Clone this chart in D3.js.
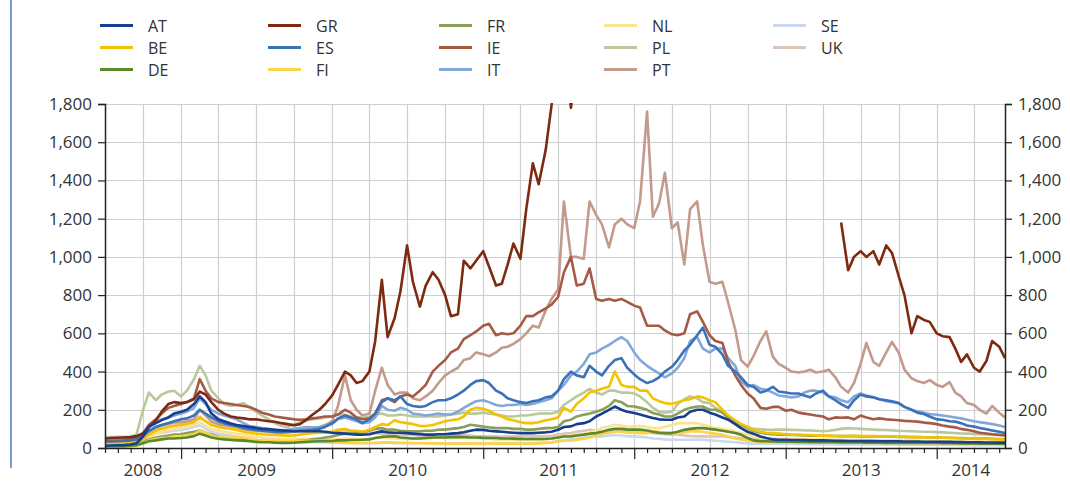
<!DOCTYPE html>
<html><head><meta charset="utf-8">
<script src="https://cdn.jsdelivr.net/npm/d3@7"></script>
<style>
body{margin:0;background:#fff;}
text{font-family:"Open Sans","Noto Sans",sans-serif;fill:#333;}
</style></head><body><svg id="c" width="1070" height="482"></svg>
<script>
// legend order (column-major)
const countries = ["AT","BE","DE","GR","ES","FI","FR","IE","IT","NL","PL","PT","SE","UK"];
const countryColors = ["#173f8e","#f3c300","#5b8a2b","#7e2a10","#3a72ba","#fdd34c","#8a9f5a","#a65a45","#82a8d9","#fbe38f","#b9c99c","#c39a8c","#c9d8ec","#dcc4b8"];
const yTicks = [0,200,400,600,800,1000,1200,1400,1600,1800];
const yearLabels = ["2008","2009","2010","2011","2012","2013","2014"];
// semi-monthly observation dates: 1st and 15th of each month, Jul 2008 - Jun 2014
const startMonth = "2008-07", endMonth = "2014-06";

const N = null;
const GR = [
50,52,54,55,57,62,75,110,145,190,230,240,
235,240,255,295,280,240,200,180,165,160,155,150,
150,145,140,137,130,125,119,125,150,175,200,230,
275,330,400,380,340,350,400,560,880,580,680,820,
1060,870,740,850,920,880,800,690,700,980,940,980,
1030,950,850,860,960,1070,990,1250,1490,1380,1560,1790,
2100,2100,1780,2000,2300,2600,2800,3000,3300,3800,4500,5000,
6000,7000,8000,9000,10000,11000,N,N,N,N,N,N,
N,N,N,N,N,N,N,N,N,N,N,N,
N,N,N,N,N,N,N,N,N,1180,930,1000,
1030,1000,1030,960,1060,1020,900,800,600,690,670,660,
600,585,580,520,450,490,420,400,455,560,530,470];
const PT = [
30,32,34,35,38,42,55,80,110,120,130,135,
135,140,150,200,170,140,125,120,115,110,100,95,
90,88,85,80,78,80,85,95,100,105,110,120,
140,220,380,250,200,170,180,300,420,330,280,290,
290,260,250,270,300,340,380,400,420,460,470,500,
490,480,500,525,530,545,570,600,640,630,720,780,
830,1290,1000,1000,990,1290,1220,1170,1050,1170,1200,1170,
1150,1290,1760,1210,1280,1440,1150,1180,960,1250,1290,1060,
870,860,870,760,620,460,426,480,560,610,478,440,
420,400,395,400,410,395,400,410,370,320,290,340,
440,550,450,430,500,555,500,410,365,350,340,355,
330,320,345,290,270,235,225,200,180,220,185,160];
const IE = [
35,36,38,40,45,55,75,120,150,180,210,220,
230,240,260,360,300,260,240,235,230,225,220,215,
200,185,175,165,160,155,150,148,150,155,160,165,
165,175,200,185,160,150,155,180,250,260,240,270,
280,270,300,330,400,430,460,500,520,570,590,610,
640,650,590,600,595,600,640,690,690,710,730,750,
790,920,1000,850,860,940,780,770,780,770,780,765,
745,735,640,640,640,615,595,590,600,700,715,660,
590,560,550,450,380,330,285,260,210,205,215,215,
195,200,185,180,175,170,165,150,160,158,160,150,
170,160,150,155,150,148,145,142,140,138,133,130,
125,118,112,108,100,95,88,80,76,72,68,65];
const ES = [
30,32,33,35,40,45,60,90,110,120,130,140,
150,155,170,200,180,160,140,130,120,115,105,100,
95,90,88,85,84,86,88,90,92,95,100,110,
130,155,170,160,150,130,150,180,240,260,250,270,
230,220,215,220,240,250,250,260,280,300,330,350,
355,340,300,285,260,250,240,235,245,250,265,270,
300,360,400,380,370,430,400,380,430,460,470,420,
385,360,340,350,370,400,425,460,510,540,590,630,
540,530,490,430,400,370,330,320,290,300,320,296,
290,285,285,275,265,285,300,270,250,230,210,250,
280,270,265,255,250,245,235,215,200,185,178,165,
150,148,140,138,130,118,112,105,98,92,85,78];
const IT = [
40,42,43,45,50,60,80,120,140,150,160,170,
180,190,210,260,230,200,180,170,160,150,130,115,
110,105,100,95,92,95,100,105,110,108,110,115,
125,150,160,150,140,130,135,160,220,200,195,210,
200,180,175,170,175,180,175,175,190,210,230,245,
250,240,225,220,225,225,230,225,230,240,250,260,
300,330,380,400,440,490,500,520,540,560,580,560,
500,460,430,410,390,370,390,420,470,560,580,520,
500,520,520,470,430,350,320,330,310,305,290,275,
270,265,270,290,300,300,290,270,265,250,240,270,
285,275,265,255,245,240,235,215,200,192,185,178,
174,170,165,160,155,148,140,135,130,125,118,110];
const BE = [
20,21,22,23,25,30,45,70,90,100,110,115,
120,125,135,160,140,120,110,105,100,95,85,80,
75,72,70,68,66,65,66,70,75,78,80,82,
85,95,100,90,90,85,95,110,125,120,145,135,
130,125,115,115,120,130,140,145,150,165,200,210,
205,195,175,165,150,145,135,130,130,135,145,150,
160,210,190,230,260,290,300,310,320,400,330,320,
320,300,300,260,245,235,230,240,250,255,270,265,
250,240,200,170,145,125,110,96,85,80,78,75,
72,70,70,68,68,66,65,65,63,62,62,64,
63,62,62,61,60,60,59,58,57,57,56,55,
55,54,54,52,50,50,49,48,47,46,45,44];
const PL = [
57,57,58,58,60,70,200,290,250,280,295,300,
270,300,360,430,380,300,260,230,220,225,235,210,
190,170,150,130,115,110,125,135,145,150,155,160,
165,175,175,165,160,160,165,175,180,170,170,175,
170,165,165,165,165,165,170,175,180,185,180,180,
185,180,175,170,165,165,170,170,175,180,182,180,
190,225,250,270,290,310,290,280,300,300,290,290,
285,270,240,210,190,185,190,230,255,270,260,240,
235,210,190,170,140,125,110,100,98,96,95,96,
96,95,94,92,92,90,88,90,95,100,104,102,
100,98,96,95,94,92,90,89,88,86,85,85,
83,82,80,78,76,75,74,72,71,70,70,68];
const FR = [
12,13,14,14,16,20,30,45,55,60,65,70,
72,78,85,92,80,70,60,55,50,48,45,42,
40,38,36,35,34,34,35,38,40,45,50,55,
60,68,75,78,80,85,90,100,104,96,96,90,
87,87,87,90,90,96,96,100,104,110,122,118,
112,108,104,104,104,100,100,96,96,100,104,105,
110,140,148,165,174,180,190,200,220,250,240,220,
217,210,200,183,175,165,165,180,200,210,217,217,
200,200,185,160,140,120,105,90,80,75,72,70,
70,68,67,66,65,64,64,63,63,62,62,63,
61,61,60,60,60,59,58,58,57,57,56,55,
55,54,53,52,52,51,50,50,49,48,47,46];
const AT = [
12,13,14,15,18,25,60,110,130,146,160,180,
190,200,230,270,240,180,150,140,128,120,115,110,
105,100,98,95,92,90,88,88,88,88,88,85,
80,78,75,72,70,70,72,80,87,82,80,80,
78,75,72,70,70,72,72,75,78,82,90,96,
95,90,87,85,82,80,78,78,78,80,82,85,
95,110,113,125,130,140,165,180,200,217,200,190,
183,175,165,157,150,148,148,160,165,190,200,200,
185,175,160,148,125,104,85,75,60,52,45,43,
43,42,42,41,40,40,40,39,38,38,37,37,
37,36,36,35,35,35,35,34,34,34,33,33,
33,32,32,31,31,30,30,30,29,29,28,28];
const DE = [
8,9,10,10,12,15,25,35,40,45,50,50,
52,55,62,75,65,55,48,45,42,40,38,35,
32,30,30,28,27,27,28,30,32,34,35,36,
37,40,40,42,42,43,45,52,58,60,61,55,
52,50,50,52,55,55,55,57,58,57,55,55,
53,52,52,50,50,49,48,47,47,47,48,50,
55,60,61,65,70,75,78,85,95,100,100,96,
96,96,92,85,80,78,78,85,95,100,104,104,
100,96,90,85,78,70,52,40,35,35,34,33,
33,33,32,32,31,31,30,30,30,29,29,29,
29,28,28,28,27,27,27,26,26,26,26,26,
26,25,25,25,24,24,24,23,23,23,22,22];
const NL = [
10,11,12,12,14,18,35,60,75,85,95,100,
105,110,120,137,115,100,90,85,80,75,70,65,
57,55,52,50,48,48,48,48,48,48,48,48,
43,45,48,48,45,45,48,52,55,52,50,48,
48,48,50,50,52,52,52,52,55,55,52,52,
50,48,45,45,45,43,43,43,43,43,45,48,
55,60,65,70,75,80,90,105,113,122,118,110,
113,115,110,104,104,110,120,130,130,130,130,122,
113,105,100,95,87,78,70,60,52,50,50,48,
48,47,46,45,45,44,43,43,42,42,42,42,
41,41,40,40,40,39,39,38,38,37,36,36,
35,35,34,34,33,33,32,32,31,31,30,30];
const FI = [
8,8,9,9,10,12,25,40,48,52,55,60,
62,65,72,90,80,65,58,55,55,57,55,50,
42,40,39,38,37,37,37,37,38,38,38,38,
30,28,26,26,25,25,26,26,28,28,27,26,
26,25,25,24,24,24,23,23,23,23,23,23,
23,23,23,23,23,23,22,22,22,24,26,28,
35,38,40,43,48,55,65,75,80,85,85,80,
80,78,78,87,85,80,78,78,82,87,87,85,
78,75,70,60,50,45,38,35,33,33,32,32,
32,31,31,30,30,30,29,29,29,28,28,28,
28,27,27,27,26,26,26,26,25,25,25,25,
25,25,24,24,24,24,23,23,23,23,22,22];
const SE = [
8,8,9,9,10,15,40,60,75,80,85,90,
95,100,110,119,100,85,75,70,65,60,55,50,
39,37,35,35,34,33,32,31,30,30,30,29,
28,27,27,26,26,26,26,26,28,28,27,26,
26,26,26,26,26,25,25,25,25,25,25,26,
26,26,26,26,26,26,26,26,26,27,28,30,
35,40,45,50,55,60,61,61,65,68,65,61,
61,58,55,50,48,45,43,43,43,43,43,43,
40,38,35,33,30,27,24,23,23,22,22,22,
22,21,21,21,20,20,20,20,19,19,19,19,
19,19,18,18,18,18,18,17,17,17,17,17,
17,16,16,16,16,15,15,15,15,15,14,14];
const UK = [
25,27,30,32,35,40,60,85,100,110,119,125,
130,135,145,165,140,125,115,110,105,100,95,92,
92,90,90,88,88,87,87,86,85,84,82,80,
82,85,87,85,82,80,78,78,75,72,70,70,
70,68,64,61,61,62,64,66,68,70,65,62,
61,61,60,60,60,61,62,62,61,61,62,64,
70,75,78,85,90,96,90,85,87,90,88,85,
85,82,80,78,75,72,70,70,65,62,61,61,
60,60,60,58,55,52,50,48,45,45,44,43,
43,43,42,42,42,42,42,42,41,41,40,40,
40,40,39,39,38,38,37,37,36,36,35,35,
34,33,33,32,32,31,31,30,30,29,29,28];

const seriesValues = {AT,BE,DE,GR,ES,FI,FR,IE,IT,NL,PL,PT,SE,UK};

// build dates
const parseM = d3.timeParse("%Y-%m");
const months = d3.timeMonth.range(parseM(startMonth), d3.timeMonth.offset(parseM(endMonth),1));
const dates = [];
months.forEach(m => { dates.push(m); dates.push(new Date(m.getFullYear(), m.getMonth(), 15)); });

const svg = d3.select("#c");
const L = 105, R = 1005, T = 104, B = 448;
const x = d3.scaleTime().domain([parseM(startMonth), dates[dates.length-1]]).range([L, R]);
const y = d3.scaleLinear().domain([0, 1800]).range([B, T]);

// left decorative rule
svg.append("line").attr("x1",11).attr("x2",11).attr("y1",0).attr("y2",468)
  .attr("stroke","#4a78c2").attr("stroke-width",1.5);

// gridlines
const g = svg.append("g");
g.selectAll(".hg").data(yTicks.filter(v=>v>0)).join("line")
  .attr("x1",L).attr("x2",R).attr("y1",d=>Math.round(y(d))+0.5).attr("y2",d=>Math.round(y(d))+0.5)
  .attr("stroke","#cfcfcf").attr("stroke-width",1.2);
const quarters = d3.timeMonth.every(3).range(x.domain()[0], x.domain()[1]).filter(d=>x(d)>L+1);
g.selectAll(".vg").data(quarters).join("line")
  .attr("x1",d=>Math.round(x(d))+0.5).attr("x2",d=>Math.round(x(d))+0.5).attr("y1",T).attr("y2",B)
  .attr("stroke","#cfcfcf").attr("stroke-width",1.2);

// lines
svg.append("clipPath").attr("id","clip").append("rect").attr("x",L).attr("y",T-1).attr("width",R-L).attr("height",B-T+1);
const line = d3.line().defined(d=>d.v!==null).x(d=>x(d.d)).y(d=>y(d.v)).curve(d3.curveLinear);
const lg = svg.append("g").attr("clip-path","url(#clip)");
const drawOrder = countries.slice().reverse();
drawOrder.forEach(c => {
  const vals = seriesValues[c];
  const data = dates.map((d,i)=>({d, v: vals[i]===undefined?null:vals[i]}));
  lg.append("path").datum(data).attr("d",line).attr("fill","none")
    .attr("stroke",countryColors[countries.indexOf(c)]).attr("stroke-width",2.6)
    .attr("stroke-linejoin","round");
});

// y axes
const yl = svg.append("g").attr("transform",`translate(${L},0)`)
  .call(d3.axisLeft(y).tickValues(yTicks).tickFormat(d3.format(",")).tickSize(7).tickPadding(6));
const yr = svg.append("g").attr("transform",`translate(${R},0)`)
  .call(d3.axisRight(y).tickValues(yTicks).tickFormat(d3.format(",")).tickSize(7).tickPadding(6));
[yl,yr].forEach(a=>{a.select(".domain").attr("stroke","#222").attr("stroke-width",1.5);
  a.selectAll(".tick line").attr("stroke","#222").attr("stroke-width",1.2);
  a.selectAll("text").style("font-size","17px").attr("fill","#333");});

// x axis
const xa = svg.append("g").attr("transform",`translate(0,${B})`)
  .call(d3.axisBottom(x).ticks(d3.timeMonth.every(1)).tickFormat("").tickSize(5).tickSizeOuter(0));
xa.select(".domain").attr("stroke","#222").attr("stroke-width",1.5);
xa.selectAll(".tick line").attr("stroke","#222").attr("stroke-width",1.2)
  .attr("y2",d=>d.getMonth()===0?11:5);
// year labels centred on each year span
yearLabels.forEach(yl2=>{
  const a = Math.max(x(new Date(+yl2,0,1)),L), b = Math.min(x(new Date(+yl2+1,0,1)),R);
  svg.append("text").attr("x",(a+b)/2).attr("y",476).attr("text-anchor","middle")
    .style("font-size","17px").text(yl2);
});

// legend
const colX = [100,268,439,604,773], rowY = [25.5,47.5,69.5];
countries.forEach((c,i)=>{
  const col = Math.floor(i/3), row = i%3;
  const lx = colX[col], ly = rowY[row];
  svg.append("line").attr("x1",lx).attr("x2",lx+33).attr("y1",ly).attr("y2",ly)
    .attr("stroke",countryColors[i]).attr("stroke-width",3);
  svg.append("text").attr("x",lx+48).attr("y",ly+6).style("font-size","16px").text(c);
});
</script></body></html>
